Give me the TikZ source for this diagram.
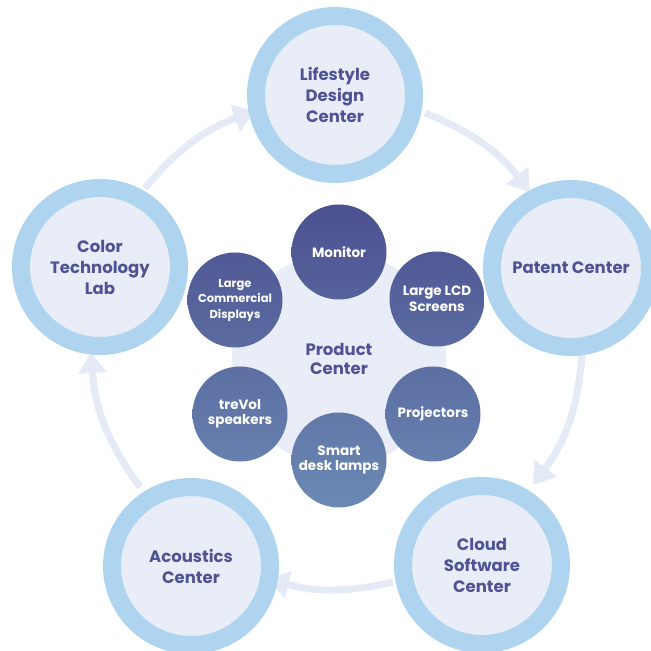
\documentclass[tikz,border=0pt]{standalone}
\usepackage{fontspec}
\setmainfont{Poppins}
\usetikzlibrary{arrows.meta}
\definecolor{ringc}{HTML}{AFD4F0}
\definecolor{innerc}{HTML}{E9EDF8}
\definecolor{arrowc}{HTML}{E5EAF7}
\definecolor{navy}{HTML}{4E5394}
\definecolor{gA}{HTML}{4C5190}
\definecolor{gB}{HTML}{6B89B4}
\begin{document}
\begin{tikzpicture}[x=1pt,y=1pt,
  outerc/.style={circle, draw=ringc, line width=18pt, fill=innerc, minimum size=158pt, inner sep=0pt,
    text=navy, font=\bfseries\fontsize{16.5}{21}\selectfont, align=center},
  smallc/.style={circle, minimum size=95pt, inner sep=0pt, text=white,
    font=\bfseries\fontsize{13.5}{15.5}\selectfont, align=center},
  hub/.style={circle, fill=innerc, minimum size=214pt, inner sep=0pt, text=navy,
    font=\bfseries\fontsize{16.5}{19.5}\selectfont, align=center},
  flow/.style={draw=arrowc, line width=7pt, -{Triangle[length=21pt,width=27pt]}}
]
\useasboundingbox (0,0) rectangle (651,651);
\fill[white] (0,0) rectangle (651,651);
\clip (0,0) rectangle (651,651);

% arrow end points
\coordinate (a1s) at (145,463); \coordinate (a1e) at (255,540);
\coordinate (a2s) at (425,538); \coordinate (a2e) at (530,459);
\coordinate (a3s) at (582,296); \coordinate (a3e) at (533,166);
\coordinate (a4s) at (393,69);  \coordinate (a4e) at (268,72);
\coordinate (a5s) at (140,164); \coordinate (a5e) at (91,299);

\draw[flow] (a1s) to[bend left=15] (a1e);
\draw[flow] (a2s) to[bend left=15] (a2e);
\draw[flow] (a3s) to[bend left=16] (a3e);
\draw[flow] (a4s) to[bend left=14] (a4e);
\draw[flow] (a5s) to[bend left=16] (a5e);

% outer centers
\node[outerc] (life) at (335,556) {Lifestyle\\Design\\Center};
\node[outerc] (patent) at (571,383) {Patent Center};
\node[outerc] (cloud) at (482,86) {Cloud\\Software\\Center};
\node[outerc] (acou) at (191,85) {Acoustics\\Center};
\node[outerc] (color) at (100,384) {Color\\Technology\\Lab};

% product center
\node[hub] (prod) at (339,292) {Product\\Center};

\node[smallc, top color=gA, bottom color=gB!31!gA] (mon) at (339,399) {Monitor};
\node[smallc, top color=gB!15!gA, bottom color=gB!47!gA] (lcd) at (437,352) {Large LCD\\Screens};
\node[smallc, top color=gB!53!gA, bottom color=gB!84!gA] (proj) at (433,237) {Projectors};
\node[smallc, top color=gB!69!gA, bottom color=gB] (lamp) at (339,191) {Smart\\desk lamps};
\node[smallc, top color=gB!53!gA, bottom color=gB!84!gA] (spk) at (240,237) {treVol\\speakers};
\node[smallc, top color=gB!15!gA, bottom color=gB!47!gA, font=\bfseries\fontsize{11.5}{15.5}\selectfont] (disp) at (235,351) {Large\\Commercial\\Displays};
\end{tikzpicture}
\end{document}
